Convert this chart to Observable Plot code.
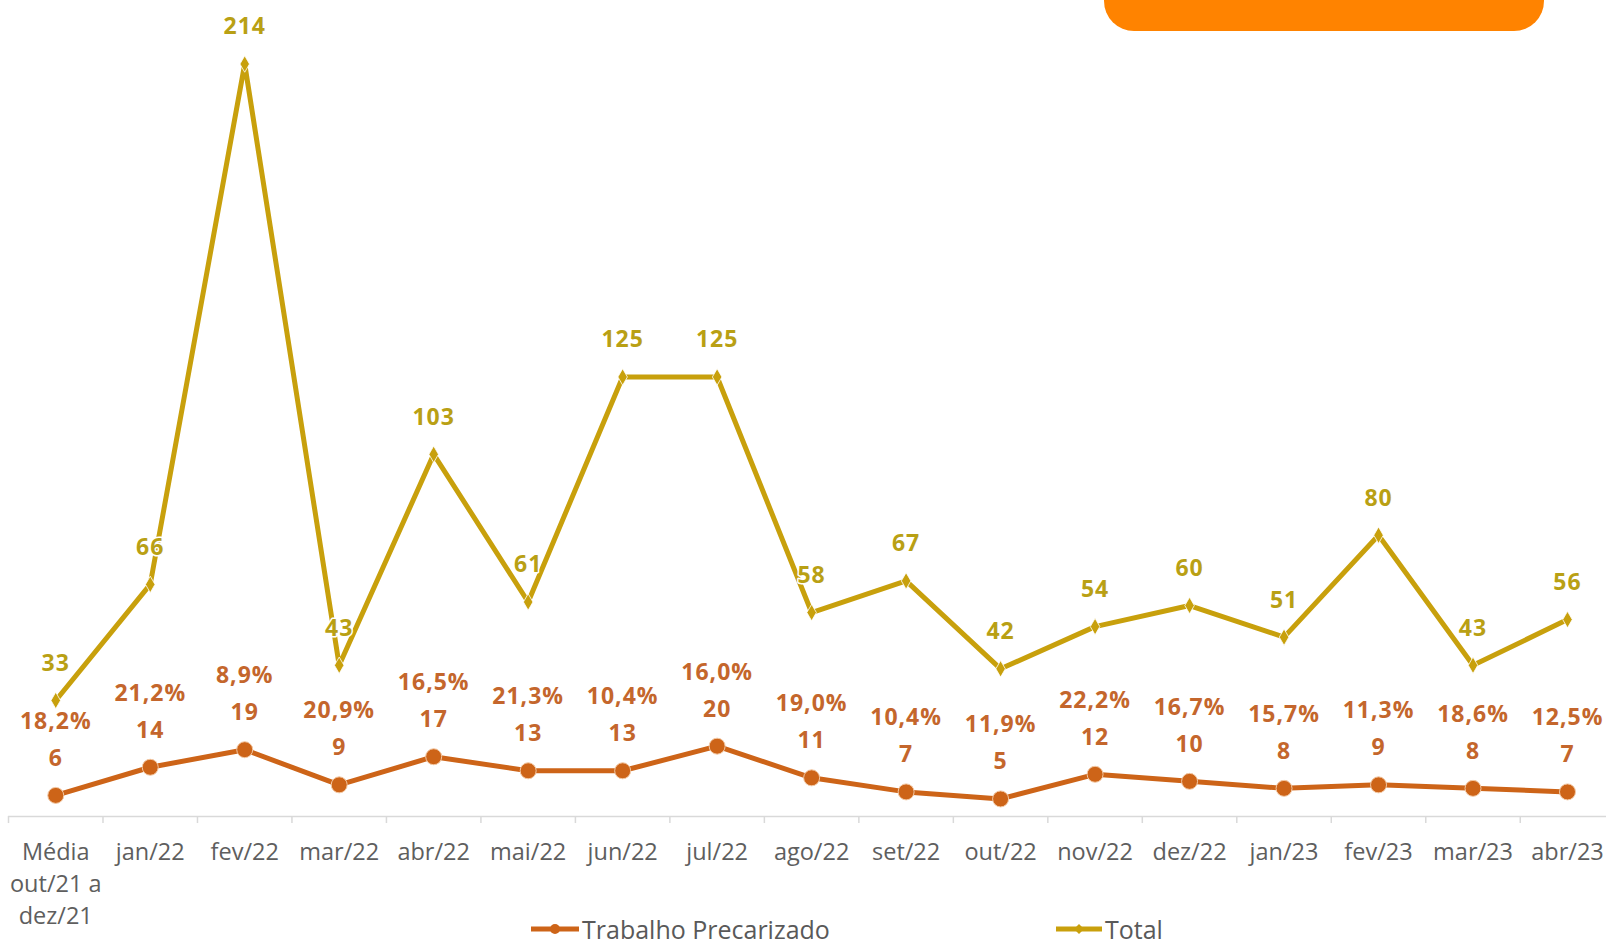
<!DOCTYPE html>
<html>
<head>
<meta charset="utf-8">
<script src="https://cdn.jsdelivr.net/npm/d3@7"></script>
<script src="https://cdn.jsdelivr.net/npm/@observablehq/plot@0.6"></script>
<style>
  html, body { margin: 0; padding: 0; background: #fff; width: 1606px; height: 944px; overflow: hidden; position: relative; }
  #badge { position: absolute; left: 1104px; top: -30px; width: 440px; height: 61px; background: #FF8300; border-radius: 0 0 30px 30px; }
  #chart { position: absolute; left: 0; top: 0; }
  #legend { position: absolute; left: 0; top: 913px; width: 1606px; height: 32px; font-family: "Open Sans", sans-serif; font-size: 25px; color: #595959; }
  .item { position: absolute; top: 0; display: flex; align-items: center; height: 32px; }
  .item svg { margin-right: 2px; }
  #chart g[font-weight="bold"] text { letter-spacing: 1px; }
</style>
</head>
<body>
<div id="badge"></div>
<div id="chart"></div>
<div id="legend">
  <div class="item" style="left:530px">
    <svg width="50" height="12"><line x1="1" y1="6" x2="49" y2="6" stroke="#CD6418" stroke-width="5"/><circle cx="25" cy="6" r="5" fill="#CD6418"/></svg>
    <span>Trabalho Precarizado</span>
  </div>
  <div class="item" style="left:1055px">
    <svg width="48" height="12"><line x1="1" y1="6" x2="47" y2="6" stroke="#C9A00C" stroke-width="5"/><path d="M24,1 L29,6 L24,11 L19,6 Z" fill="#C9A00C"/></svg>
    <span>Total</span>
  </div>
</div>
<script>
const categories = ["Média\nout/21 a\ndez/21", "jan/22", "fev/22", "mar/22", "abr/22", "mai/22", "jun/22", "jul/22", "ago/22", "set/22", "out/22", "nov/22", "dez/22", "jan/23", "fev/23", "mar/23", "abr/23"];
const totalValues = [33, 66, 214, 43, 103, 61, 125, 125, 58, 67, 42, 54, 60, 51, 80, 43, 56];
const precarizadoValues = [6, 14, 19, 9, 17, 13, 13, 20, 11, 7, 5, 12, 10, 8, 9, 8, 7];
const percentLabels = ["18,2%", "21,2%", "8,9%", "20,9%", "16,5%", "21,3%", "10,4%", "16,0%", "19,0%", "10,4%", "11,9%", "22,2%", "16,7%", "15,7%", "11,3%", "18,6%", "12,5%"];

const data = categories.map((c, i) => ({cat: c, total: totalValues[i], prec: precarizadoValues[i], pct: percentLabels[i]}));

const GOLD = "#C8A00C", GOLD_TXT = "#B9A014", ORANGE = "#CD6418", ORANGE_TXT = "#C4662C";
const half = 47.25;
const FONT = "'Open Sans', sans-serif";

const chart = Plot.plot({
  width: 1606,
  height: 944,
  marginLeft: 8,
  marginRight: 0,
  marginTop: 0,
  marginBottom: 0,
  x: {type: "point", domain: categories, range: [55.25, 1567], padding: 0, round: false, axis: null},
  y: {domain: [0, 214], range: [816, 63.5], axis: null},
  style: {background: "transparent"},
  marks: [
    Plot.ruleY([0], {stroke: "#D9D9D9", strokeWidth: 1.5}),
    Plot.ruleX(categories, {x: d => d, dx: -half, y1: 0, y2: -2, stroke: "#D9D9D9", strokeWidth: 1.5}),
    Plot.text(categories, {x: d => d, y: 0, text: d => d, dy: 21, lineAnchor: "top", lineHeight: 1.36, fill: "#5E5E5E", fontSize: 23.5, fontFamily: FONT}),
    Plot.line(data, {x: "cat", y: "total", stroke: GOLD, strokeWidth: 5}),
    Plot.dot(data, {x: "cat", y: "total", symbol: "diamond", r: 5, fill: GOLD, stroke: "#fff", strokeWidth: 0.8}),
    Plot.line(data, {x: "cat", y: "prec", stroke: ORANGE, strokeWidth: 5}),
    Plot.dot(data, {x: "cat", y: "prec", r: 8, fill: ORANGE, stroke: "#F3C9A5", strokeWidth: 1}),
    Plot.text(data, {x: "cat", y: "total", text: d => String(d.total), dy: -37, fill: GOLD_TXT, fontSize: 23, fontWeight: "bold", fontFamily: FONT, stroke: "#fff", strokeWidth: 3, paintOrder: "stroke"}),
    Plot.text(data, {x: "cat", y: "prec", text: d => String(d.prec), dy: -37, fill: ORANGE_TXT, fontSize: 23, fontWeight: "bold", fontFamily: FONT}),
    Plot.text(data, {x: "cat", y: "prec", text: "pct", dy: -74, fill: ORANGE_TXT, fontSize: 23, fontWeight: "bold", fontFamily: FONT})
  ]
});
document.getElementById("chart").appendChild(chart);
</script>
</body>
</html>
